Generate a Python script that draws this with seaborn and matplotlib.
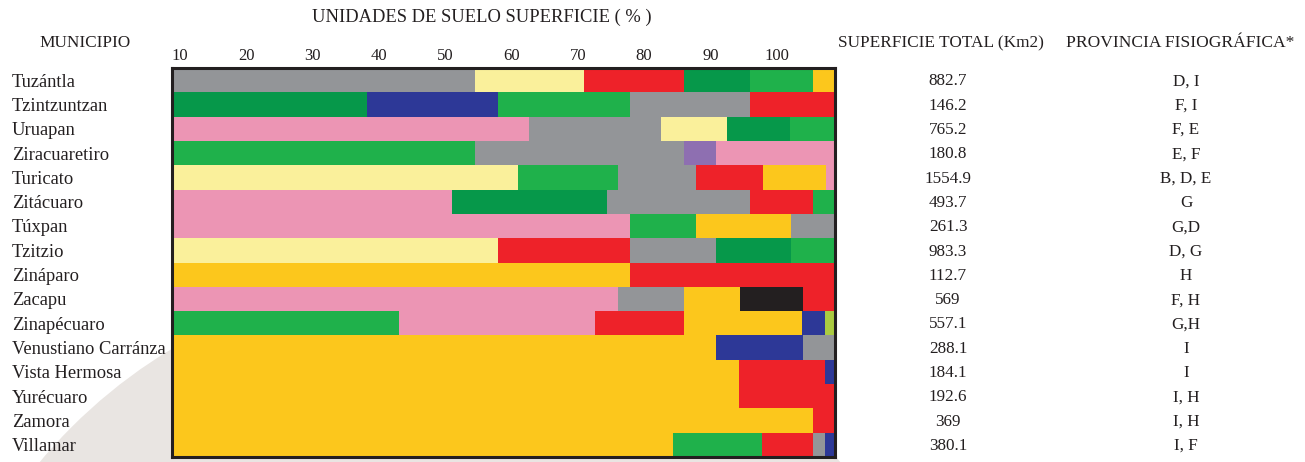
import numpy as np
import pandas as pd
import matplotlib
matplotlib.use("Agg")
import matplotlib.pyplot as plt
import matplotlib.transforms as mtransforms
from matplotlib.patches import Circle
import seaborn as sns

municipios = ['Tuzántla', 'Tzintzuntzan', 'Uruapan', 'Ziracuaretiro', 'Turicato',
              'Zitácuaro', 'Túxpan', 'Tzitzio', 'Zináparo', 'Zacapu', 'Zinapécuaro',
              'Venustiano Carránza', 'Vista Hermosa', 'Yurécuaro', 'Zamora', 'Villamar']
superficie = ['882.7', '146.2', '765.2', '180.8', '1554.9', '493.7', '261.3', '983.3',
              '112.7', '569', '557.1', '288.1', '184.1', '192.6', '369', '380.1']
provincia = ['D, I', 'F, I', 'F, E', 'E, F', 'B, D, E', 'G', 'G,D', 'D, G',
             'H', 'F, H', 'G,H', 'I', 'I', 'I, H', 'I, H', 'I, F']

# unidades de suelo en cada barra (de izquierda a derecha)
unidades = [
    ['gris', 'crema', 'rojo', 'verde_osc', 'verde', 'ocre'],
    ['verde_osc', 'azul', 'verde', 'gris', 'rojo'],
    ['rosa', 'gris', 'crema', 'verde_osc', 'verde'],
    ['verde', 'gris', 'morado', 'rosa'],
    ['crema', 'verde', 'gris', 'rojo', 'ocre', 'rosa'],
    ['rosa', 'verde_osc', 'gris', 'rojo', 'verde'],
    ['rosa', 'verde', 'ocre', 'gris'],
    ['crema', 'rojo', 'gris', 'verde_osc', 'verde'],
    ['ocre', 'rojo'],
    ['rosa', 'gris', 'ocre', 'negro', 'rojo'],
    ['verde', 'rosa', 'rojo', 'ocre', 'azul', 'lima'],
    ['ocre', 'azul', 'gris'],
    ['ocre', 'rojo', 'azul'],
    ['ocre', 'rojo'],
    ['ocre', 'rojo'],
    ['ocre', 'verde', 'rojo', 'gris', 'azul'],
]
porcentajes = [
    [45.7, 16.4, 15.1, 10.0, 9.5, 3.3],
    [29.4, 19.8, 19.9, 18.1, 12.8],
    [53.8, 19.9, 10.0, 9.5, 6.8],
    [45.7, 31.5, 4.8, 18.0],
    [52.2, 15.1, 11.8, 10.0, 9.5, 1.4],
    [42.2, 23.4, 21.6, 9.5, 3.3],
    [69.1, 10.0, 14.2, 6.7],
    [49.2, 19.9, 13.0, 11.2, 6.7],
    [69.1, 30.9],
    [67.3, 10.0, 8.3, 9.5, 4.9],
    [34.2, 29.6, 13.4, 17.8, 3.5, 1.5],
    [82.1, 13.0, 4.9],
    [85.5, 13.0, 1.5],
    [85.5, 14.5],
    [96.7, 3.3],
    [75.6, 13.4, 7.7, 1.8, 1.5],
]
escala = [10, 20, 30, 40, 50, 60, 70, 80, 90, 100]

colores = {
    'gris': '#939598', 'crema': '#FAF09B', 'rojo': '#EE2229', 'verde_osc': '#06984A',
    'verde': '#1FB14B', 'ocre': '#FCC71C', 'azul': '#2D3897', 'rosa': '#EC95B4',
    'morado': '#8E6FB1', 'negro': '#231F20', 'lima': '#ABCB41',
}

filas = []
for m, us, ps in zip(municipios, unidades, porcentajes):
    for k, (u, fin) in enumerate(zip(us, np.cumsum(ps))):
        filas.append({'municipio': m, 'nivel': k, 'unidad': u, 'fin': fin})
df = pd.DataFrame(filas)

sns.set_theme(style='white')
plt.rcParams['font.family'] = ['Liberation Serif', 'DejaVu Serif']
tinta = '#231F20'

W, H = 1305, 462
fig = plt.figure(figsize=(W / 100, H / 100), dpi=100)
# fondo decorativo (arco gris claro abajo a la izquierda)
fig.add_artist(Circle((4.40, -3.335), 5.21, transform=fig.dpi_scale_trans,
                      facecolor='#E9E5E2', edgecolor='none', zorder=0))

ax = fig.add_axes([172 / W, 1 - 457 / H, (835 - 172) / W, (457 - 68) / H])

# barras apiladas: se dibuja el acumulado de cada nivel, del último al primero
for k in sorted(df['nivel'].unique(), reverse=True):
    sub = df[df['nivel'] == k]
    pal = dict(zip(sub['municipio'], sub['unidad'].map(colores)))
    sns.barplot(data=sub, x='fin', y='municipio', hue='municipio', order=municipios,
                palette=pal, orient='h', width=1.0, saturation=1, linewidth=0,
                errorbar=None, legend=False, ax=ax)

ax.set_xlim(0, 100)
ax.set_ylim(len(municipios) - 0.5, -0.5)
ax.xaxis.tick_top()
desfase = 8.8
ax.set_xticks(np.array(escala) - desfase)
ax.set_xticklabels([str(v) for v in escala])
ax.tick_params(axis='x', length=0, pad=3, labelsize=12, labelcolor=tinta)
ax.set_yticks([])
ax.set_xlabel('')
ax.set_ylabel('')
for s in ax.spines.values():
    s.set_visible(True)
    s.set_color(tinta)
    s.set_linewidth(2.2)

trans = mtransforms.blended_transform_factory(fig.transFigure, ax.transData)
for i, (m, sup, prov) in enumerate(zip(municipios, superficie, provincia)):
    ax.text(12 / W, i + 0.08, m, transform=trans, ha='left', va='center', fontsize=13.3,
            color=tinta, clip_on=False)
    ax.text(948 / W, i + 0.05, sup, transform=trans, ha='center', va='center', fontsize=12.3,
            color=tinta, clip_on=False)
    ax.text(1186 / W, i + 0.05, prov, transform=trans, ha='center', va='center', fontsize=12.3,
            color=tinta, clip_on=False)

fig.text(482 / W, 1 - 17 / H, 'UNIDADES DE SUELO SUPERFICIE ( % )', ha='center',
         va='center', fontsize=13.3, color=tinta)
fig.text(85 / W, 1 - 43 / H, 'MUNICIPIO', ha='center', va='center', fontsize=12.4,
         color=tinta)
fig.text(941 / W, 1 - 43 / H, 'SUPERFICIE TOTAL (Km2)', ha='center', va='center',
         fontsize=12.4, color=tinta)
fig.text(1180 / W, 1 - 43 / H, 'PROVINCIA FISIOGRÁFICA*', ha='center', va='center',
         fontsize=12.6, color=tinta)

fig.savefig('out.png', dpi=100)
